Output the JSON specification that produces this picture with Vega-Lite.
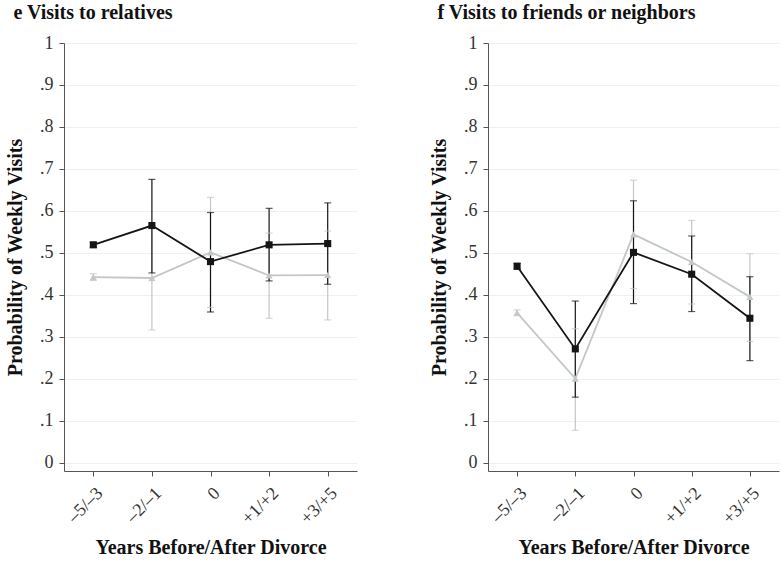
{
  "$schema": "https://vega.github.io/schema/vega-lite/v6.json",
  "background": "white",
  "padding": {"left": 5, "top": 3, "right": 2, "bottom": 3},
  "spacing": 72,
  "config": {
    "view": {"stroke": null},
    "font": "Liberation Serif",
    "axis": {
      "labelFont": "Liberation Serif",
      "titleFont": "Liberation Serif",
      "labelFontSize": 18,
      "labelColor": "#333333",
      "titleFontSize": 20,
      "titleFontWeight": "bold",
      "titleColor": "#111111",
      "domainColor": "#555555",
      "tickColor": "#555555",
      "tickSize": 5,
      "gridColor": "#ebf2ef",
      "gridWidth": 1
    },
    "title": {"font": "Liberation Serif", "fontSize": 20, "fontWeight": "bold", "color": "#111111", "anchor": "start", "frame": "bounds", "offset": 11, "dx": 8}
  },
  "datasets": {
    "e": [
      {"period": "–5/–3", "group": "Comparison", "p": 0.442, "lo": 0.434, "hi": 0.450},
      {"period": "–2/–1", "group": "Comparison", "p": 0.440, "lo": 0.316, "hi": 0.564},
      {"period": "0", "group": "Comparison", "p": 0.501, "lo": 0.370, "hi": 0.632},
      {"period": "+1/+2", "group": "Comparison", "p": 0.446, "lo": 0.344, "hi": 0.547},
      {"period": "+3/+5", "group": "Comparison", "p": 0.447, "lo": 0.340, "hi": 0.552},
      {"period": "–5/–3", "group": "Divorcing", "p": 0.519, "lo": 0.513, "hi": 0.525},
      {"period": "–2/–1", "group": "Divorcing", "p": 0.565, "lo": 0.452, "hi": 0.675},
      {"period": "0", "group": "Divorcing", "p": 0.479, "lo": 0.359, "hi": 0.596},
      {"period": "+1/+2", "group": "Divorcing", "p": 0.519, "lo": 0.433, "hi": 0.606},
      {"period": "+3/+5", "group": "Divorcing", "p": 0.522, "lo": 0.425, "hi": 0.619}
    ],
    "f": [
      {"period": "–5/–3", "group": "Comparison", "p": 0.357, "lo": 0.350, "hi": 0.364},
      {"period": "–2/–1", "group": "Comparison", "p": 0.200, "lo": 0.077, "hi": 0.319},
      {"period": "0", "group": "Comparison", "p": 0.544, "lo": 0.415, "hi": 0.673},
      {"period": "+1/+2", "group": "Comparison", "p": 0.478, "lo": 0.378, "hi": 0.577},
      {"period": "+3/+5", "group": "Comparison", "p": 0.395, "lo": 0.289, "hi": 0.498},
      {"period": "–5/–3", "group": "Divorcing", "p": 0.468, "lo": 0.461, "hi": 0.475},
      {"period": "–2/–1", "group": "Divorcing", "p": 0.271, "lo": 0.156, "hi": 0.385},
      {"period": "0", "group": "Divorcing", "p": 0.501, "lo": 0.379, "hi": 0.624},
      {"period": "+1/+2", "group": "Divorcing", "p": 0.449, "lo": 0.360, "hi": 0.540},
      {"period": "+3/+5", "group": "Divorcing", "p": 0.344, "lo": 0.243, "hi": 0.443}
    ]
  },
  "hconcat": [
    {
      "width": 293,
      "height": 428,
      "data": {"name": "e"},
      "title": {"text": "e Visits to relatives"},
      "encoding": {
        "x": {"field": "period", "type": "ordinal", "sort": ["–5/–3", "–2/–1", "0", "+1/+2", "+3/+5"], "scale": {"type": "point", "padding": 0.5},
          "axis": {"title": "Years Before/After Divorce", "labelAngle": -45, "labelPadding": 8, "titlePadding": 10, "grid": false}},
        "color": {"field": "group", "type": "nominal", "scale": {"domain": ["Comparison", "Divorcing"], "range": ["#c3c7c6", "#151515"]}, "legend": null}
      },
      "layer": [
        {"mark": {"type": "rule", "strokeWidth": 1.2}, "encoding": {"y": {"field": "lo", "type": "quantitative"}, "y2": {"field": "hi"}}},
        {"mark": {"type": "tick", "size": 7, "thickness": 1.2}, "encoding": {"y": {"field": "lo", "type": "quantitative"}}},
        {"mark": {"type": "tick", "size": 7, "thickness": 1.2}, "encoding": {"y": {"field": "hi", "type": "quantitative"}}},
        {"mark": {"type": "line", "strokeWidth": 1.8}, "encoding": {"y": {"field": "p", "type": "quantitative"}}},
        {"mark": {"type": "point", "filled": true, "opacity": 1, "size": 50},
          "encoding": {
            "y": {"field": "p", "type": "quantitative", "scale": {"domain": [-0.02, 1], "nice": false, "zero": false},
              "axis": {"title": "Probability of Weekly Visits", "titlePadding": 14, "labelPadding": 6, "grid": true,
                "values": [0, 0.05, 0.1, 0.15, 0.2, 0.25, 0.3, 0.35, 0.4, 0.45, 0.5, 0.55, 0.6, 0.65, 0.7, 0.75, 0.8, 0.85, 0.9, 0.95, 1],
                "labelExpr": "datum.value == 0 ? '0' : datum.value == 1 ? '1' : (abs(datum.value*10 - round(datum.value*10)) < 0.001 ? '.' + round(datum.value*10) : '')"}},
            "shape": {"field": "group", "type": "nominal", "scale": {"domain": ["Comparison", "Divorcing"], "range": ["triangle-up", "square"]}, "legend": null}
          }}
      ]
    },
    {
      "width": 291,
      "height": 428,
      "data": {"name": "f"},
      "title": {"text": "f Visits to friends or neighbors"},
      "encoding": {
        "x": {"field": "period", "type": "ordinal", "sort": ["–5/–3", "–2/–1", "0", "+1/+2", "+3/+5"], "scale": {"type": "point", "padding": 0.5},
          "axis": {"title": "Years Before/After Divorce", "labelAngle": -45, "labelPadding": 8, "titlePadding": 10, "grid": false}},
        "color": {"field": "group", "type": "nominal", "scale": {"domain": ["Comparison", "Divorcing"], "range": ["#c3c7c6", "#151515"]}, "legend": null}
      },
      "layer": [
        {"mark": {"type": "rule", "strokeWidth": 1.2}, "encoding": {"y": {"field": "lo", "type": "quantitative"}, "y2": {"field": "hi"}}},
        {"mark": {"type": "tick", "size": 7, "thickness": 1.2}, "encoding": {"y": {"field": "lo", "type": "quantitative"}}},
        {"mark": {"type": "tick", "size": 7, "thickness": 1.2}, "encoding": {"y": {"field": "hi", "type": "quantitative"}}},
        {"mark": {"type": "line", "strokeWidth": 1.8}, "encoding": {"y": {"field": "p", "type": "quantitative"}}},
        {"mark": {"type": "point", "filled": true, "opacity": 1, "size": 50},
          "encoding": {
            "y": {"field": "p", "type": "quantitative", "scale": {"domain": [-0.02, 1], "nice": false, "zero": false},
              "axis": {"title": "Probability of Weekly Visits", "titlePadding": 14, "labelPadding": 6, "grid": true,
                "values": [0, 0.05, 0.1, 0.15, 0.2, 0.25, 0.3, 0.35, 0.4, 0.45, 0.5, 0.55, 0.6, 0.65, 0.7, 0.75, 0.8, 0.85, 0.9, 0.95, 1],
                "labelExpr": "datum.value == 0 ? '0' : datum.value == 1 ? '1' : (abs(datum.value*10 - round(datum.value*10)) < 0.001 ? '.' + round(datum.value*10) : '')"}},
            "shape": {"field": "group", "type": "nominal", "scale": {"domain": ["Comparison", "Divorcing"], "range": ["triangle-up", "square"]}, "legend": null}
          }}
      ]
    }
  ]
}
